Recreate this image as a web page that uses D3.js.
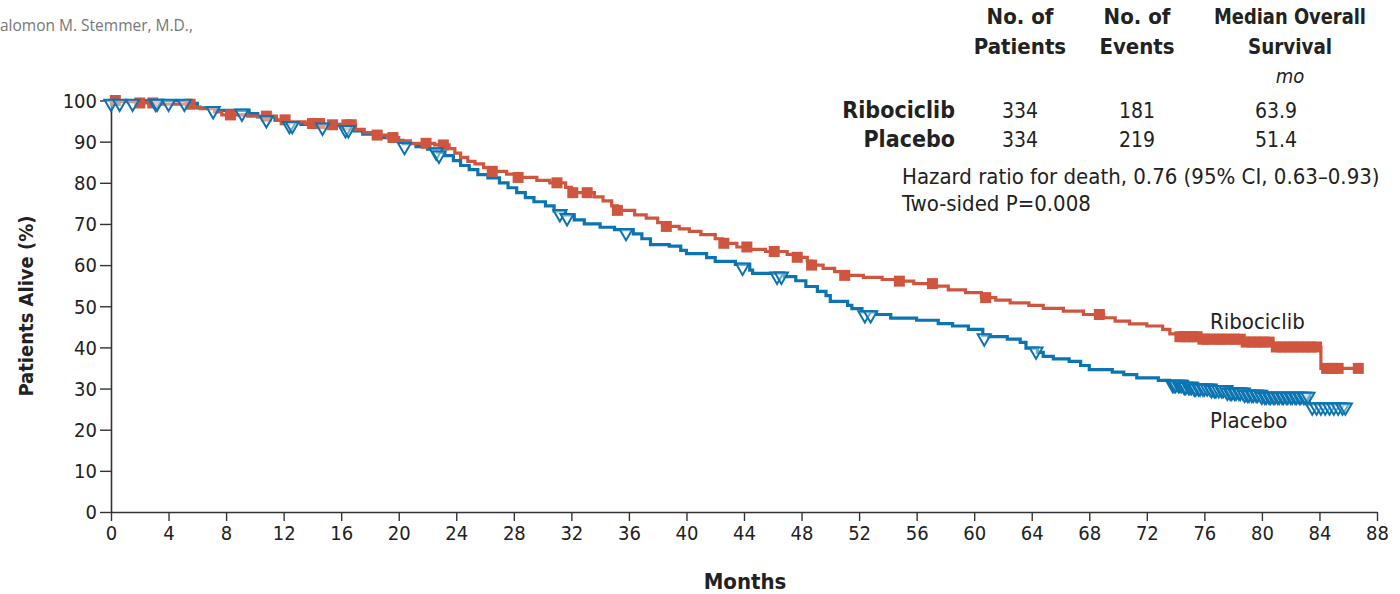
<!DOCTYPE html>
<html>
<head>
<meta charset="utf-8">
<script src="https://cdn.jsdelivr.net/npm/d3@7"></script>
<style>
  html, body { margin: 0; padding: 0; background: #fff; }
  svg { display: block; }
  .cond { font-family: "Liberation Sans Narrow", "DejaVu Sans Condensed", "Open Sans", sans-serif; }
  .sans { font-family: "Open Sans", "Noto Sans", sans-serif; }
</style>
</head>
<body>
<svg id="chart" width="1400" height="594"></svg>
<script>
// ---------------- data ----------------
const xTicks = [0,4,8,12,16,20,24,28,32,36,40,44,48,52,56,60,64,68,72,76,80,84,88];
const yTicks = [0,10,20,30,40,50,60,70,80,90,100];

const ribociclibSteps = [
  [0,100],[0.5,99.7],[1.8,99.4],[3.5,99.1],[5.6,98.4],[6.2,98.0],[7.2,97.2],[7.7,96.5],
  [9.5,96.2],[11.5,95.3],[12.3,94.8],[13.5,94.4],[14.8,94.1],[17.0,93.0],[17.6,92.2],
  [18.3,91.6],[19.2,91.0],[20.0,90.2],[20.8,89.6],[22.5,89.2],[23.5,88.3],[23.9,87.2],
  [24.3,86.2],[24.8,85.2],[25.3,84.6],[25.9,83.7],[26.3,82.8],[27.5,82.1],[28.2,81.3],
  [29.6,80.6],[30.5,80.0],[31.6,78.9],[32.0,77.6],[33.6,76.6],[34.2,75.6],[34.8,74.4],
  [35.2,73.3],[36.4,72.2],[37.2,71.4],[38.0,70.3],[38.6,69.4],[39.5,68.8],[40.2,68.2],
  [41.0,67.4],[42.0,66.4],[42.5,65.3],[43.5,64.4],[44.3,63.8],[45.5,63.3],[47.0,62.6],
  [47.6,61.9],[48.4,61.0],[48.7,60.0],[49.5,59.2],[50.3,58.4],[51.0,57.5],[52.3,57.0],
  [53.6,56.5],[54.6,56.1],[55.8,55.5],[57.2,54.9],[58.2,54.0],[59.4,53.3],[60.5,52.1],
  [61.5,51.5],[62.5,50.8],[63.8,50.2],[64.8,49.5],[66.2,48.8],[67.6,48.0],[69.0,47.2],
  [69.8,46.4],[70.8,45.7],[72.0,45.2],[73.1,44.4],[73.6,43.3],[74.2,42.6],[75.6,42.0],
  [78.9,41.3],[80.8,40.1],[84.1,34.9],[86.8,34.9]
];
const placeboSteps = [
  [0,100],[5.5,99.3],[6.0,98.2],[7.3,97.6],[9.6,96.8],[10.2,96.0],[11.4,95.2],[12.3,94.6],
  [13.2,94.2],[16.0,93.6],[16.9,92.6],[17.5,91.8],[18.6,91.0],[19.6,90.3],[20.3,89.5],
  [21.2,88.8],[22.0,88.2],[22.7,87.4],[23.2,86.6],[23.8,85.4],[24.3,84.2],[24.9,83.2],
  [25.5,82.0],[26.2,81.2],[27.0,80.0],[27.6,78.8],[28.2,77.6],[28.8,76.4],[29.4,75.4],
  [30.2,74.4],[30.8,73.2],[31.6,72.2],[32.2,71.0],[32.9,70.0],[34.0,69.2],[35.0,68.6],
  [36.3,67.6],[36.9,66.4],[37.5,65.0],[38.8,64.6],[39.6,63.6],[40.0,62.8],[41.4,61.8],
  [42.0,60.9],[43.4,60.2],[44.4,58.8],[44.6,58.0],[46.8,57.2],[47.6,56.2],[48.3,54.8],
  [49.1,53.6],[49.7,52.6],[50.0,51.2],[51.2,50.2],[51.5,49.4],[52.2,48.6],[53.2,48.0],
  [54.2,47.1],[56.0,46.6],[57.5,45.8],[58.5,45.2],[59.6,44.4],[60.6,43.0],[61.0,42.6],
  [62.3,42.0],[63.2,41.2],[63.6,39.8],[64.4,38.8],[64.8,37.8],[65.5,37.2],[66.6,36.6],
  [67.4,35.6],[68.0,34.6],[69.6,34.0],[70.4,33.4],[71.3,32.6],[72.8,32.0],[73.6,31.7],
  [74.6,31.2],[75.3,30.8],[76.5,30.4],[77.6,29.8],[78.8,29.3],[80.0,28.8],[83.3,26.2],[85.9,26.2]
];
const ribociclibCensor = [
  0.3,2.0,2.9,5.5,8.3,10.8,12.1,14.0,14.5,15.4,16.4,16.7,18.5,19.6,21.9,23.1,
  26.5,28.3,31.0,32.1,33.1,35.2,38.6,42.6,44.2,46.1,47.7,48.7,51.0,54.8,57.1,60.8,68.7,
  74.3,74.6,74.9,75.2,75.5,75.9,76.2,76.6,77.0,77.3,77.7,78.1,78.5,78.9,79.3,79.7,
  80.1,80.5,81.0,81.4,81.8,82.2,82.6,83.0,83.4,83.8,84.5,84.9,85.3,86.7
];
const placeboCensor = [
  0.0,0.6,1.5,3.1,3.2,4.0,5.1,7.1,9.1,10.8,12.4,12.6,14.7,16.3,16.5,20.4,22.6,22.8,
  31.2,31.7,35.8,43.9,46.3,46.6,52.4,52.8,60.7,64.3,
  73.8,73.9,74.0,74.2,74.3,74.4,74.6,74.7,74.9,75.0,75.1,75.3,75.4,75.6,75.7,75.9,
  76.0,76.2,76.4,76.5,76.7,76.8,77.0,77.2,77.3,77.5,77.6,77.8,77.9,78.1,78.2,78.4,
  78.5,78.7,78.8,79.0,79.1,79.3,79.4,79.6,79.7,79.9,80.0,80.2,80.3,80.5,80.6,80.8,
  80.9,81.1,81.2,81.4,81.5,81.7,81.8,82.0,82.1,82.3,82.4,82.6,82.7,82.9,83.0,83.2,
  83.5,83.8,84.1,84.4,84.7,85.0,85.3,85.6,85.8
];
const groups = ["Ribociclib","Placebo"];
const nPatients = ["334","334"];
const nEvents = ["181","219"];
const medianOS = ["63.9","51.4"];

// ---------------- drawing ----------------
const RED = "#d0553f", BLUE = "#0b74b1";
const svg = d3.select("#chart");
const x = d3.scaleLinear().domain([0,88]).range([111,1377]);
const y = d3.scaleLinear().domain([0,100]).range([512,100.5]);

// axes
const xAxis = svg.append("g").attr("transform","translate(0,512)")
  .call(d3.axisBottom(x).tickValues(xTicks).tickSize(9).tickPadding(5).tickSizeOuter(0));
const yAxis = svg.append("g").attr("transform","translate(111,0)")
  .call(d3.axisLeft(y).tickValues(yTicks).tickSize(11).tickPadding(3).tickSizeOuter(0));
[xAxis,yAxis].forEach(a => {
  a.select(".domain").attr("stroke","#333").attr("stroke-width",1.6);
  a.selectAll(".tick line").attr("stroke","#333").attr("stroke-width",1.4);
  a.selectAll(".tick text").attr("class","cond").attr("fill","#222").style("font-size","20px");
});
xAxis.selectAll(".tick text").attr("dy","0.71em");
yAxis.selectAll(".tick text").attr("dy","0.34em");

// step lines
const stepVal = (steps, t) => {
  const i = d3.bisector(d => d[0]).right(steps, t) - 1;
  return steps[Math.max(0,i)][1];
};
const line = d3.line().x(d => x(d[0])).y(d => y(d[1])).curve(d3.curveStepAfter);
svg.append("path").datum(placeboSteps).attr("d",line).attr("fill","none")
  .attr("stroke",BLUE).attr("stroke-width",3.2);
svg.append("path").datum(ribociclibSteps).attr("d",line).attr("fill","none")
  .attr("stroke",RED).attr("stroke-width",3.2);

// censor marks
const sq = 11;
svg.append("g").selectAll("rect").data(ribociclibCensor).join("rect")
  .attr("x", d => x(d) - sq/2).attr("y", d => y(stepVal(ribociclibSteps,d)) - sq/2)
  .attr("width",sq).attr("height",sq).attr("fill",RED);
const tri = d3.symbol().type(d3.symbolTriangle).size(75);
svg.append("g").selectAll("path").data(placeboCensor).join("path")
  .attr("d",tri)
  .attr("transform", d => `translate(${x(d)},${y(stepVal(placeboSteps,d))+3}) rotate(180)`)
  .attr("fill","#fff").attr("fill-opacity",0.4).attr("stroke",BLUE).attr("stroke-width",2);

// axis titles
svg.append("text").attr("class","cond").attr("transform","translate(33,306) rotate(-90)")
  .attr("text-anchor","middle").attr("font-weight","bold").attr("font-size",20).attr("fill","#222")
  .text("Patients Alive (%)");
svg.append("text").attr("class","cond").attr("x",745).attr("y",589)
  .attr("text-anchor","middle").attr("font-weight","bold").attr("font-size",22).attr("fill","#222")
  .text("Months");

// author fragment
svg.append("text").attr("class","sans").attr("x",0).attr("y",31).attr("font-size",15.5)
  .attr("fill","#777").text("alomon M. Stemmer, M.D.,");

// table
const colX = [1020,1137,1276];
const hdrX = [1020,1137,1290];
const hdr = [["No. of","Patients"],["No. of","Events"],["Median Overall","Survival"]];
hdr.forEach((h,i) => h.forEach((t,j) => {
  const el = svg.append("text").attr("class","cond").attr("x",hdrX[i]).attr("y",24+j*30)
    .attr("text-anchor","middle").attr("font-weight","bold").attr("font-size",22).attr("fill","#222").text(t);
  if (i === 2 && j === 0) el.attr("textLength",152).attr("lengthAdjust","spacingAndGlyphs");
  if (i === 2 && j === 1) el.attr("textLength",84).attr("lengthAdjust","spacingAndGlyphs");
}));
svg.append("text").attr("class","cond").attr("x",hdrX[2]).attr("y",83).attr("text-anchor","middle")
  .attr("font-style","italic").attr("font-size",20).attr("fill","#222").text("mo");
groups.forEach((g,i) => {
  const yy = 118 + i*29;
  svg.append("text").attr("class","cond").attr("x",955).attr("y",yy).attr("text-anchor","end")
    .attr("font-weight","bold").attr("font-size",23).attr("fill","#222").text(g);
  [nPatients[i],nEvents[i],medianOS[i]].forEach((v,k) => {
    svg.append("text").attr("class","cond").attr("x",colX[k]).attr("y",yy).attr("text-anchor","middle")
      .attr("font-size",21).attr("fill","#222").text(v);
  });
});
svg.append("text").attr("class","cond").attr("x",902).attr("y",184).attr("font-size",22).attr("fill","#222")
  .text("Hazard ratio for death, 0.76 (95% CI, 0.63\u20130.93)");
svg.append("text").attr("class","cond").attr("x",902).attr("y",211).attr("font-size",22).attr("fill","#222")
  .text("Two-sided P=0.008");

// series labels
svg.append("text").attr("class","cond").attr("x",1210).attr("y",329).attr("font-size",22).attr("fill","#222").text("Ribociclib");
svg.append("text").attr("class","cond").attr("x",1210).attr("y",428).attr("font-size",22).attr("fill","#222").text("Placebo");
</script>
</body>
</html>
